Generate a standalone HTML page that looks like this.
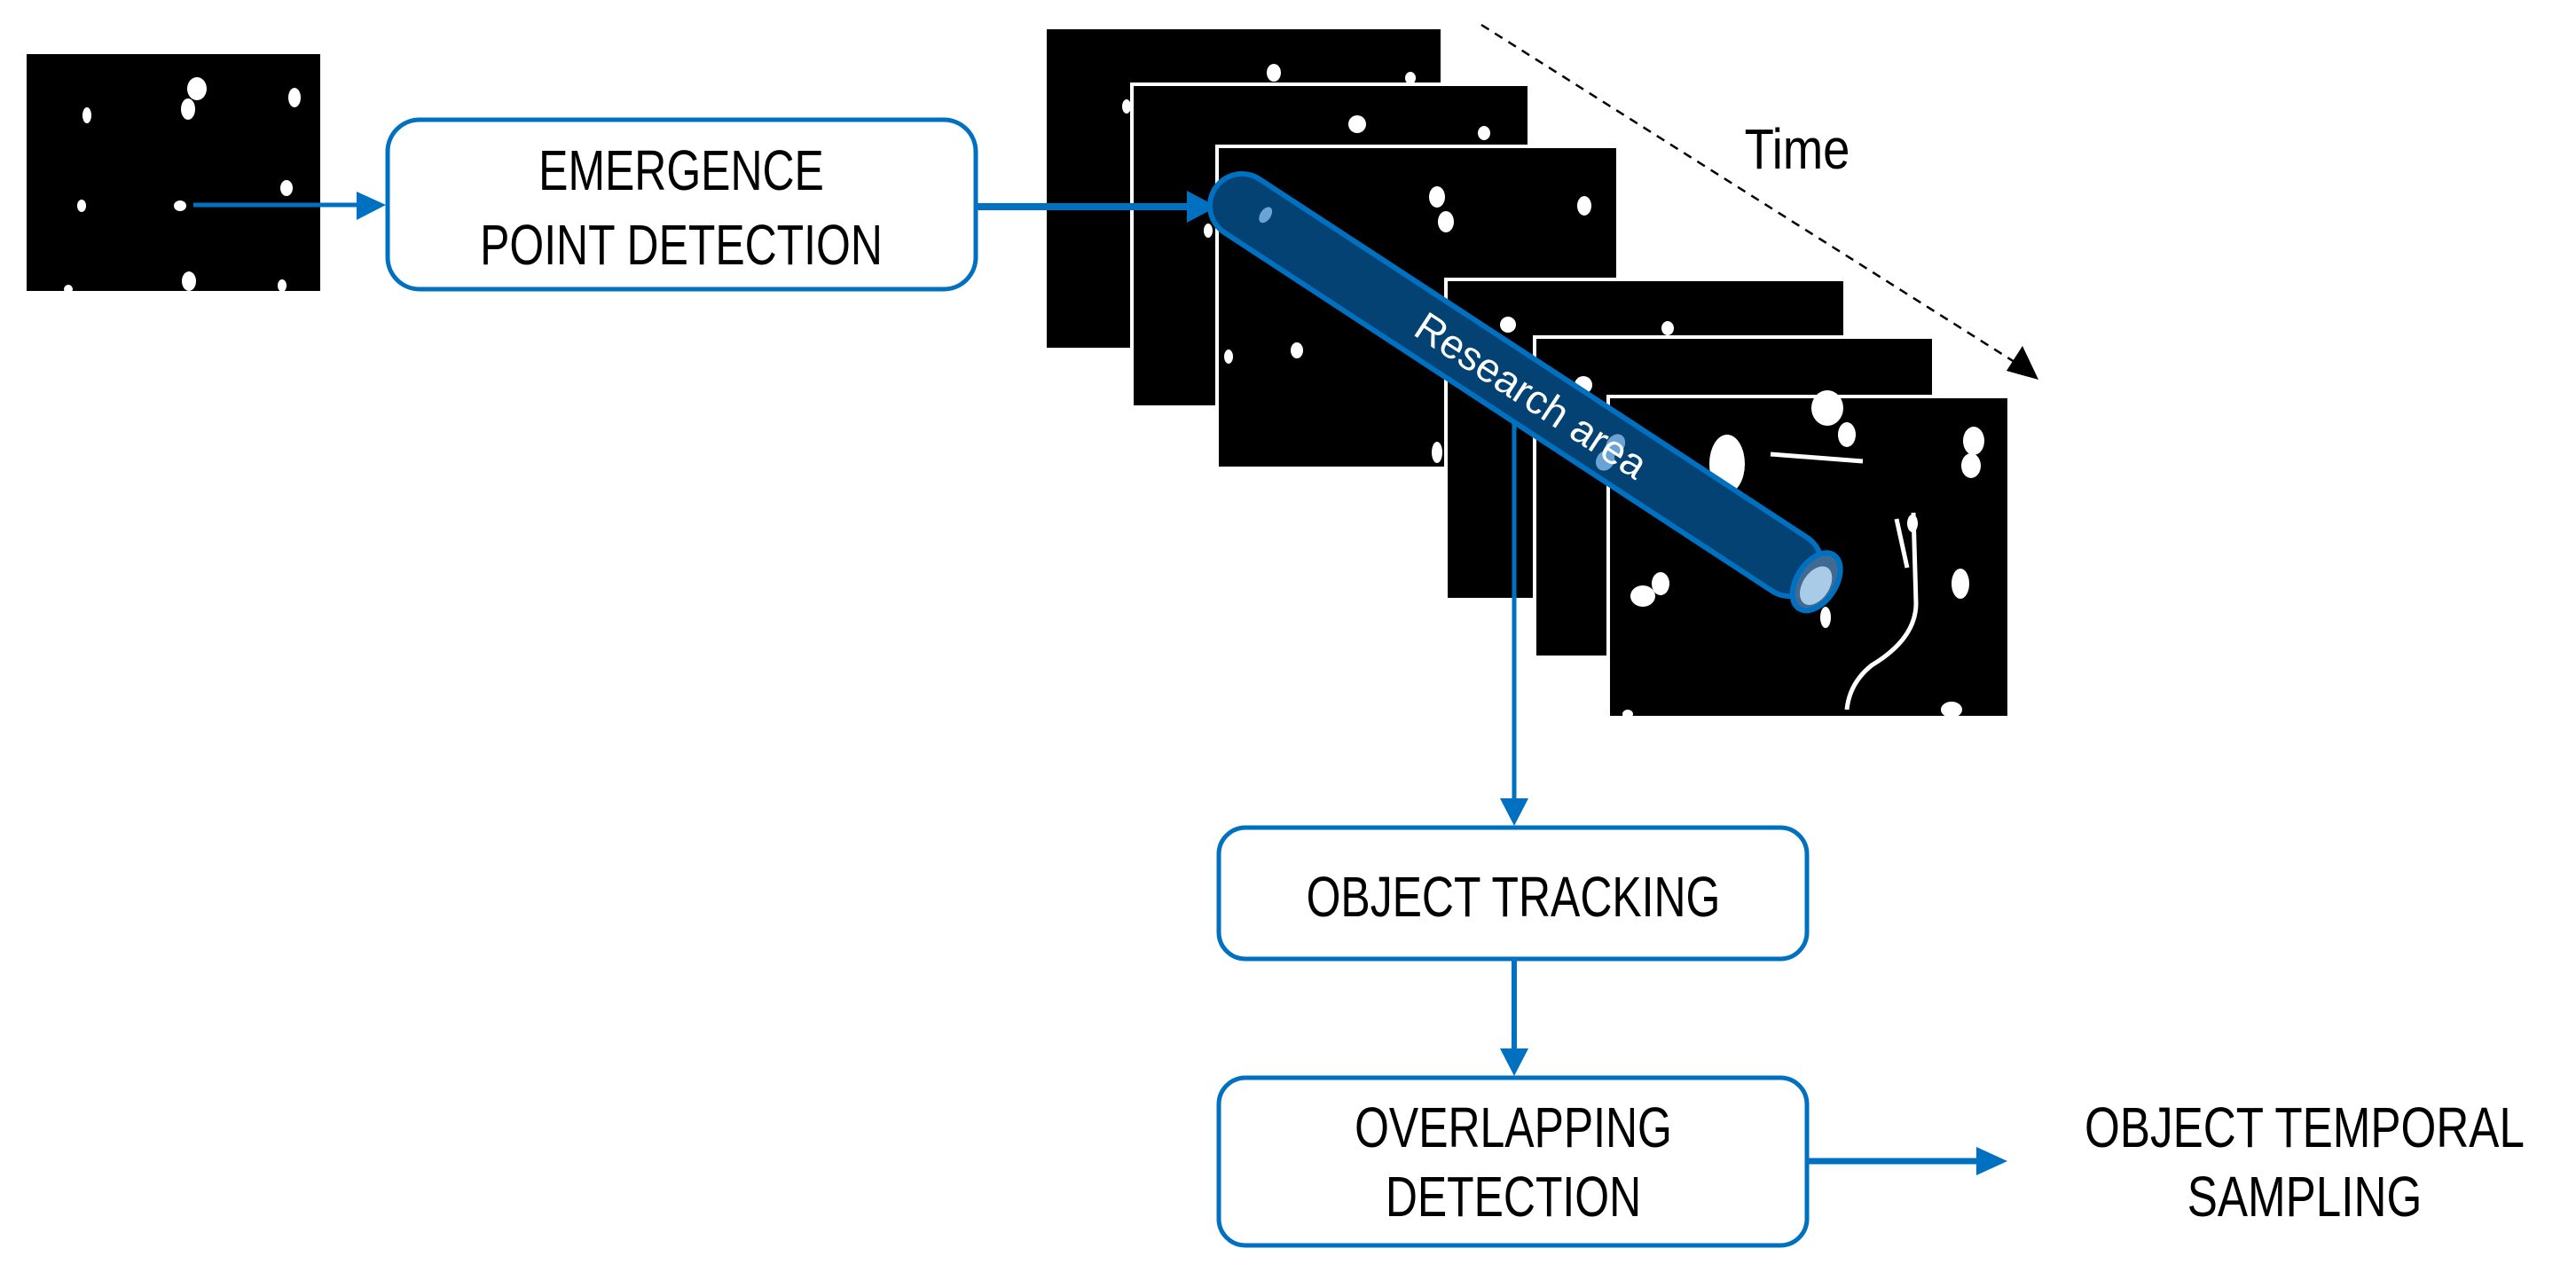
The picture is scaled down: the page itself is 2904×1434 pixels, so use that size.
<!DOCTYPE html>
<html><head><meta charset="utf-8"><style>
html,body{margin:0;padding:0;background:#fff;}
svg{display:block;}
text{font-family:"Liberation Sans",sans-serif;}
</style></head><body>
<svg width="2904" height="1434" viewBox="0 0 2904 1434" xmlns="http://www.w3.org/2000/svg">
<rect width="2904" height="1434" fill="#fff"/>

<!-- input image -->
<rect x="30" y="61" width="331" height="267" fill="#000"/>
<g fill="#fff">
<ellipse cx="98" cy="130" rx="5" ry="9"/><ellipse cx="222" cy="100" rx="11" ry="13"/><ellipse cx="212" cy="123" rx="8" ry="12"/>
<ellipse cx="332" cy="110" rx="7" ry="11"/><ellipse cx="323" cy="212" rx="7" ry="9"/><ellipse cx="92" cy="232" rx="5" ry="7"/>
<ellipse cx="203" cy="232" rx="7" ry="6"/><ellipse cx="213" cy="317" rx="8" ry="11"/><ellipse cx="77" cy="326" rx="5" ry="5"/><ellipse cx="318" cy="322" rx="5" ry="7"/>
</g>

<line x1="218" y1="231" x2="405" y2="231" stroke="#0070c0" stroke-width="5"/>
<polygon points="402,216 435,231 402,248" fill="#0070c0"/>

<rect x="437" y="135" width="663" height="191" rx="36" fill="#fff" stroke="#0070c0" stroke-width="5"/>
<g font-size="64" text-anchor="middle" fill="#000">
<text x="768" y="214" transform="translate(768 0) scale(0.78 1) translate(-768 0)">EMERGENCE</text>
<text x="768" y="298" transform="translate(768 0) scale(0.78 1) translate(-768 0)">POINT DETECTION</text>
</g>

<!-- frames -->
<g stroke="#fff" stroke-width="4">
<rect x="1178" y="31" width="448" height="363" fill="#000"/>
<rect x="1276" y="95" width="448" height="364" fill="#000"/>
<rect x="1372" y="165" width="452" height="363" fill="#000"/>
<rect x="1630" y="315" width="450" height="361" fill="#000"/>
<rect x="1730" y="380" width="450" height="361" fill="#000"/>
<rect x="1813" y="447" width="452" height="362" fill="#000"/>
</g>
<g fill="#fff">
<ellipse cx="1436" cy="82" rx="8" ry="10"/><ellipse cx="1590" cy="88" rx="6" ry="7"/><ellipse cx="1270" cy="120" rx="5" ry="8"/>
<ellipse cx="1530" cy="140" rx="10" ry="10"/><ellipse cx="1673" cy="150" rx="7" ry="8"/><ellipse cx="1362" cy="260" rx="5" ry="8"/>
<ellipse cx="1620" cy="222" rx="9" ry="12"/><ellipse cx="1630" cy="250" rx="9" ry="12"/><ellipse cx="1786" cy="232" rx="8" ry="11"/>
<ellipse cx="1462" cy="395" rx="7" ry="9"/><ellipse cx="1385" cy="402" rx="5" ry="8"/><ellipse cx="1700" cy="366" rx="9" ry="9"/>
<ellipse cx="1880" cy="370" rx="7" ry="8"/><ellipse cx="1785" cy="434" rx="10" ry="10"/><ellipse cx="1620" cy="510" rx="6" ry="12"/>
<ellipse cx="1947" cy="523" rx="20" ry="33"/><ellipse cx="2060" cy="460" rx="18" ry="20"/><ellipse cx="2082" cy="490" rx="10" ry="14"/>
<ellipse cx="2225" cy="497" rx="12" ry="16"/><ellipse cx="2222" cy="525" rx="11" ry="14"/><ellipse cx="2210" cy="658" rx="10" ry="17"/>
<ellipse cx="1852" cy="672" rx="14" ry="12"/><ellipse cx="1872" cy="658" rx="10" ry="13"/><ellipse cx="2200" cy="800" rx="12" ry="9"/>
<ellipse cx="1835" cy="805" rx="6" ry="5"/><ellipse cx="2156" cy="590" rx="6" ry="10"/><ellipse cx="2058" cy="696" rx="6" ry="12"/>
</g>
<path d="M1996,512 L2100,520 M2157,578 L2160,680 Q2160,720 2110,750 Q2085,770 2082,800 M2138,585 L2150,640" stroke="#fff" stroke-width="5" fill="none"/>

<!-- arrow box->stack (over frames) -->
<line x1="1102" y1="233" x2="1342" y2="233" stroke="#0070c0" stroke-width="8"/>
<polygon points="1338,215 1372,233 1338,251" fill="#0070c0"/>

<!-- time dashed arrow -->
<line x1="1670" y1="28" x2="2282" y2="415" stroke="#000" stroke-width="2.5" stroke-dasharray="10,8"/>
<polygon points="2298,428 2262,418 2280,390" fill="#000"/>
<text x="2026" y="190" font-size="64" text-anchor="middle" fill="#000" transform="translate(2026 0) scale(0.85 1) translate(-2026 0)">Time</text>

<!-- research tube -->
<g transform="translate(1400 232) rotate(33.2)">
<rect x="-36" y="-36" width="810" height="72" rx="36" fill="#034272" stroke="#0070c0" stroke-width="6"/>
<ellipse cx="774" cy="0" rx="22" ry="36" fill="#3f6b93" stroke="#0070c0" stroke-width="6"/>
<ellipse cx="776" cy="4" rx="15" ry="24" fill="#a9cbe8"/>
<ellipse cx="500" cy="-5" rx="10" ry="13" fill="#6aa3d4"/>
<ellipse cx="500" cy="16" rx="10" ry="12" fill="#6aa3d4"/>
<ellipse cx="28" cy="-6" rx="6" ry="10" fill="#6aa3d4"/>
<text x="390" y="16" font-size="46" text-anchor="middle" fill="#fff">Research area</text>
</g>

<line x1="1707" y1="475" x2="1707" y2="905" stroke="#0070c0" stroke-width="5"/>
<polygon points="1691,900 1707,931 1723,900" fill="#0070c0"/>

<rect x="1374" y="933" width="663" height="148" rx="30" fill="#fff" stroke="#0070c0" stroke-width="5"/>
<text x="1706" y="1033" font-size="64" text-anchor="middle" fill="#000" transform="translate(1706 0) scale(0.78 1) translate(-1706 0)">OBJECT TRACKING</text>

<line x1="1707" y1="1083" x2="1707" y2="1185" stroke="#0070c0" stroke-width="6"/>
<polygon points="1691,1182 1707,1213 1723,1182" fill="#0070c0"/>

<rect x="1374" y="1215" width="663" height="189" rx="30" fill="#fff" stroke="#0070c0" stroke-width="5"/>
<g font-size="64" text-anchor="middle" fill="#000">
<text x="1706" y="1293" transform="translate(1706 0) scale(0.78 1) translate(-1706 0)">OVERLAPPING</text>
<text x="1706" y="1371" transform="translate(1706 0) scale(0.78 1) translate(-1706 0)">DETECTION</text>
</g>

<line x1="2039" y1="1309" x2="2232" y2="1309" stroke="#0070c0" stroke-width="7"/>
<polygon points="2228,1293 2263,1309 2228,1325" fill="#0070c0"/>

<g font-size="64" text-anchor="middle" fill="#000">
<text x="2598" y="1293" transform="translate(2598 0) scale(0.8 1) translate(-2598 0)">OBJECT TEMPORAL</text>
<text x="2598" y="1371" transform="translate(2598 0) scale(0.8 1) translate(-2598 0)">SAMPLING</text>
</g>
</svg>
</body></html>
